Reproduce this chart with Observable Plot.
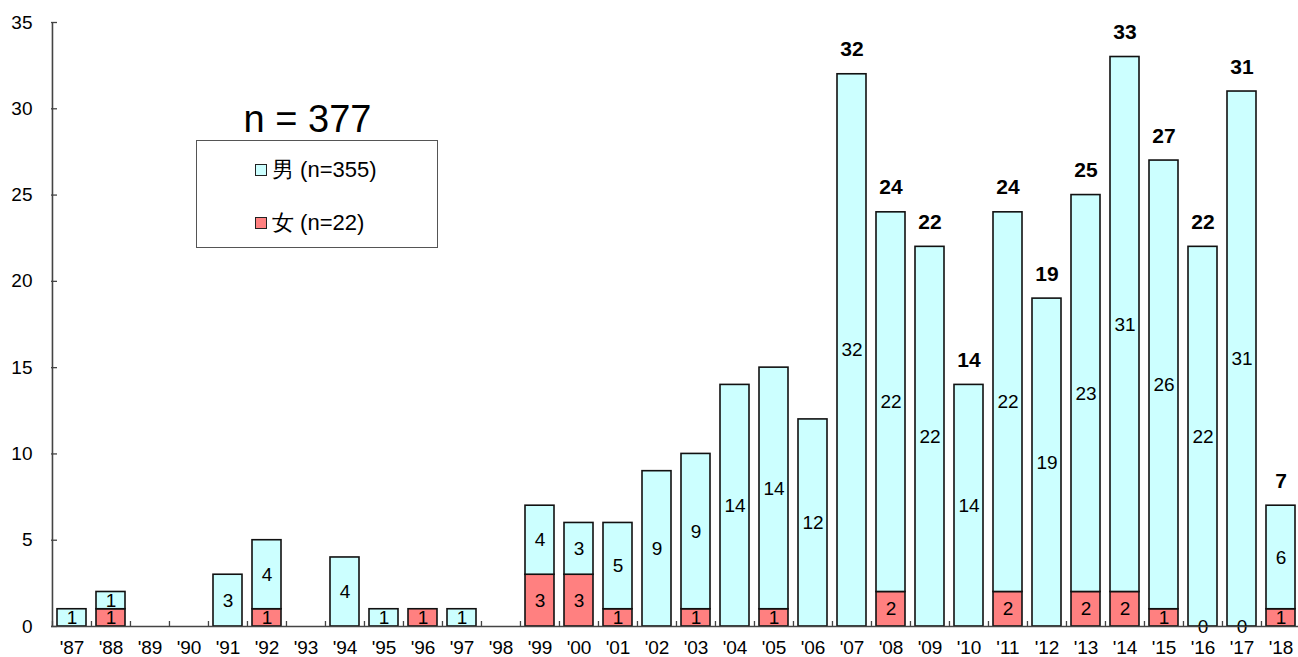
<!DOCTYPE html>
<html><head><meta charset="utf-8">
<script src="https://cdn.jsdelivr.net/npm/d3@7"></script>
<script src="https://cdn.jsdelivr.net/npm/@observablehq/plot@0.6"></script>
<style>
html,body{margin:0;padding:0;background:#fff;overflow:hidden}
#wrap{position:relative;width:1298px;height:657px;font-family:"Liberation Sans",Arial,sans-serif;color:#000}
#ntitle{position:absolute;left:187px;width:241px;top:99px;text-align:center;font-size:38px;line-height:40px}
#legend{position:absolute;left:196px;top:140px;width:240px;height:106px;border:1px solid #555;background:#fff}
.item{position:absolute;left:58px;font-size:22px;line-height:26px;display:flex;align-items:center}
.sw{display:inline-block;width:10px;height:10px;border:1px solid #222;margin-right:5px}
</style></head><body><div id="wrap"></div>
<script>
const years = ["'87","'88","'89","'90","'91","'92","'93","'94","'95","'96","'97","'98","'99","'00","'01","'02","'03","'04","'05","'06","'07","'08","'09","'10","'11","'12","'13","'14","'15","'16","'17","'18"];
const male   = [1,1,0,0,3,4,0,4,1,0,1,0,4,3,5,9,9,14,14,12,32,22,22,14,22,19,23,31,26,22,31,6];
const female = [0,1,0,0,0,1,0,0,0,1,0,0,3,3,1,0,1,0,1,0,0,2,0,0,2,0,2,2,1,0,0,1];
const totalLabelYears = ["'07","'08","'09","'10","'11","'12","'13","'14","'15","'16","'17","'18"];
const zeroFemaleLabelYears = ["'16","'17"];
const yTicks = [0,5,10,15,20,25,30,35];
const seriesNames = ["男 (n=355)", "女 (n=22)"];
const seriesColors = ["#CCFFFF", "#FF8080"];
const totalN = "n = 377";

const rows = years.map((y,i) => ({year:y, m:male[i], f:female[i], total:male[i]+female[i]}));

const W = 1298, H = 657, ML = 51, MR = 0, MT = 22, MB = 31;
const xRange = [ML, 1301];
const step = (xRange[1]-xRange[0]) / years.length;
const frameW = W - ML - MR, frameH = H - MT - MB;
const axisColor = "#444";

const chart = Plot.plot({
  width: W, height: H,
  marginLeft: ML, marginRight: MR, marginTop: MT, marginBottom: MB,
  style: {fontFamily: "Liberation Sans, Arial, sans-serif", fontSize: "19px", background: "transparent", color: "#000"},
  x: {type: "band", domain: years, range: xRange, paddingInner: 0.26, paddingOuter: 0.13, label: null},
  y: {domain: [0, 35], label: null},
  marks: [
    Plot.barY(rows.filter(d => d.f > 0), {x: "year", y1: 0, y2: "f", fill: seriesColors[1], stroke: "#111", strokeWidth: 1.6}),
    Plot.barY(rows.filter(d => d.m > 0), {x: "year", y1: "f", y2: d => d.f + d.m, fill: seriesColors[0], stroke: "#111", strokeWidth: 1.6}),
    Plot.text(rows.filter(d => d.m > 0), {x: "year", y: d => d.f + d.m/2, text: "m", fontSize: 19, fill: "#000"}),
    Plot.text(rows.filter(d => d.f > 0 || zeroFemaleLabelYears.includes(d.year)), {x: "year", y: d => d.f/2, text: "f", fontSize: 19, fill: "#000"}),
    Plot.text(rows.filter(d => totalLabelYears.includes(d.year)), {x: "year", y: "total", text: "total", fontSize: 21, fontWeight: "bold", lineAnchor: "bottom", dy: -18, fill: "#000"}),
    Plot.ruleY([0], {stroke: axisColor, strokeWidth: 1.6}),
    Plot.ruleX([years[0]], {dx: -step/2, stroke: axisColor, strokeWidth: 1.6}),
    Plot.tickY(yTicks, {y: d => d, insetRight: frameW - 6, stroke: axisColor, strokeWidth: 1.3}),
    Plot.tickX(years, {x: d => d, dx: -step/2, insetTop: frameH - 5, stroke: axisColor, strokeWidth: 1.3}),
    Plot.axisY({ticks: yTicks, tickSize: 0, tickPadding: 19, fontSize: 19, label: null}),
    Plot.axisX({tickSize: 0, tickPadding: 14, fontSize: 19, label: null})
  ]
});

const wrap = document.getElementById("wrap");
wrap.appendChild(chart);

const t = document.createElement("div");
t.id = "ntitle"; t.textContent = totalN; wrap.appendChild(t);
const lg = document.createElement("div");
lg.id = "legend";
seriesNames.forEach((name, i) => {
  const it = document.createElement("div");
  it.className = "item";
  it.style.top = (i === 0 ? 16 : 69) + "px";
  const sw = document.createElement("span");
  sw.className = "sw"; sw.style.background = seriesColors[i];
  it.appendChild(sw);
  const tx = document.createElement("span");
  tx.textContent = name;
  it.appendChild(tx);
  lg.appendChild(it);
});
wrap.appendChild(lg);
</script>
</body></html>
